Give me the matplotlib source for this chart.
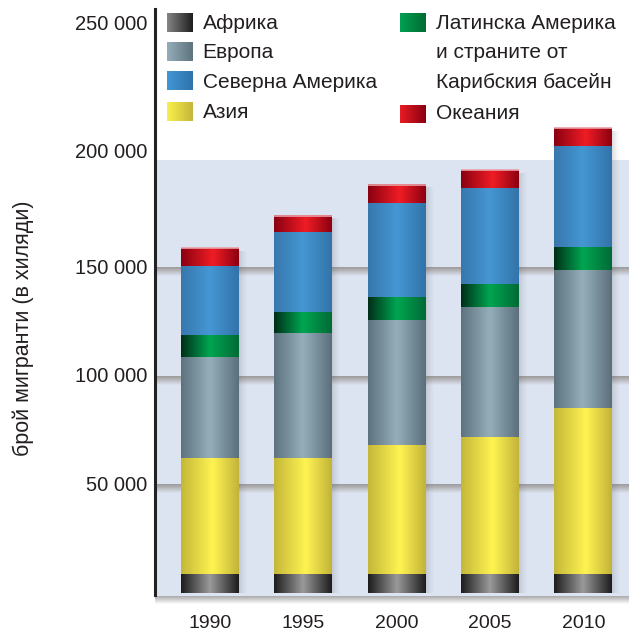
import numpy as np
import matplotlib
matplotlib.use("Agg")
import matplotlib.pyplot as plt
from matplotlib.colors import LinearSegmentedColormap

plt.rcParams['font.family'] = ['Liberation Sans', 'DejaVu Sans']

# Data (thousands of migrants)
years = ['1990', '1995', '2000', '2005', '2010']
africa = [9200, 9200, 9200, 9200, 9200]
asia = [53100, 53100, 59100, 62800, 76200]
europe = [46600, 58100, 58100, 60400, 63700]
latin_america = [10200, 9700, 10200, 10200, 10600]
north_america = [31800, 36500, 43400, 44300, 46600]
oceania = [8300, 7800, 8700, 8300, 8300]

ytick_values = [50000, 100000, 150000, 200000, 250000]
ytick_labels = ['50 000', '100 000', '150 000', '200 000', '250 000']
grid_values = [50000, 100000, 150000]

TEXT = '#231f20'
BG = '#dce3f1'

# series: (values, bar gradient stops, legend gradient stops)
series = [
    (africa, [(0, '#1c1c1c'), (0.5, '#9a9a9a'), (1, '#1c1c1c')], ['#858585', '#1e1e1e']),
    (asia, [(0, '#c4b739'), (0.55, '#fff352'), (1, '#c2b338')], ['#fbf04c', '#c4b638']),
    (europe, [(0, '#5d727e'), (0.5, '#95afba'), (1, '#5b6f7b')], ['#95aeb9', '#5d737e']),
    (latin_america, [(0, '#002e18'), (0.5, '#00a651'), (1, '#006a35')], ['#00a152', '#006a32']),
    (north_america, [(0, '#3777ad'), (0.5, '#4597d3'), (1, '#3273a9')], ['#4397d6', '#2e72aa']),
    (oceania, [(0, '#8a0010'), (0.55, '#ef1d26'), (1, '#8c0010')], ['#e81c25', '#8a0010']),
]


def gradient(ax, extent, stops, z, vertical=False):
    cmap = LinearSegmentedColormap.from_list('g', stops)
    g = np.linspace(0, 1, 256)
    g = g.reshape(-1, 1) if vertical else g.reshape(1, -1)
    return ax.imshow(g, cmap=cmap, extent=extent, aspect='auto', origin='upper',
                     interpolation='bilinear', zorder=z)


fig = plt.figure(figsize=(6.29, 6.31), dpi=100)
ax = fig.add_axes([155 / 629, 1 - 604 / 631, 474 / 629, 595 / 631])
xlim = (-0.589, 4.49)
ylim = (-4845, 269700)

# plot background and its bottom shadow
ax.axhspan(-1600, 200000, color=BG, zorder=0, lw=0)
gradient(ax, (xlim[0], xlim[1], ylim[0], -1600), ['#a9a9ab', '#ffffff'], 0.5, vertical=True)

# shelf-like gridlines
for v in grid_values:
    gradient(ax, (xlim[0], xlim[1], v - 3600, v + 400),
             [(0, '#9a9a9c'), (0.35, '#b3b3b6'), (1, BG)], 1, vertical=True)

# stacked bars with cylindrical shading
x = np.arange(len(years))
width = 0.62
bottom = np.zeros(len(years))
for values, stops, _ in series:
    bars = ax.bar(x, values, width=width, bottom=bottom, color='none', lw=0, zorder=3)
    for rect in bars:
        x0, y0 = rect.get_x(), rect.get_y()
        gradient(ax, (x0, x0 + rect.get_width(), y0, y0 + rect.get_height()), stops, 3)
    bottom += np.array(values)

# soft shadow to the right of each stack
shade = np.zeros((1, 64, 4))
shade[..., :3] = 0.35
shade[..., 3] = np.linspace(0.35, 0, 64) ** 1.5
for xi, total in zip(x, bottom):
    ax.imshow(shade, extent=(xi + width / 2, xi + width / 2 + 0.09, 0, total - 1500),
              aspect='auto', interpolation='bilinear', zorder=2)
    # light rim on top of the stack
    ax.plot([xi - width / 2, xi + width / 2], [total, total], color='#e9a0a8',
            lw=1.2, zorder=4, solid_capstyle='butt')

ax.set_xlim(*xlim)
ax.set_ylim(*ylim)

for s in ['top', 'right', 'bottom']:
    ax.spines[s].set_visible(False)
ax.spines['left'].set_color('#222222')
ax.spines['left'].set_linewidth(2.2)
ax.spines['left'].set_bounds(-800, ylim[1])
ax.spines['left'].set_zorder(5)

ax.set_xticks(x, years)
ax.tick_params(axis='x', length=0, pad=8, labelsize=14, labelcolor=TEXT)
ax.set_yticks([])

# y labels (the top ones sit a bit higher in the original)
nudges = {200000: 8, 250000: 27}
for v, lab in zip(ytick_values, ytick_labels):
    ax.annotate(lab, xy=(0, v), xycoords=ax.get_yaxis_transform(),
                xytext=(-8, nudges.get(v, 0)), textcoords='offset pixels',
                ha='right', va='center', fontsize=14.5, color=TEXT, annotation_clip=False)

fig.text(23 / 629, 1 - 328 / 631, 'брой мигранти (в хиляди)', rotation=90,
         ha='center', va='center', fontsize=15.5, color=TEXT)

# legend drawn in pixel space
lax = fig.add_axes([0, 0, 1, 1], zorder=10)
lax.set_xlim(0, 629)
lax.set_ylim(631, 0)
lax.axis('off')
lax.patch.set_visible(False)

left_items = [('Африка', 0, 22.5), ('Европа', 2, 51.5), ('Северна Америка', 4, 81), ('Азия', 1, 112)]
for label, idx, yc in left_items:
    gradient(lax, (166.5, 191.7, yc + 9.5, yc - 9.5), series[idx][2], 1)
    lax.text(202.6, yc + 1, label, ha='left', va='center', fontsize=15, color=TEXT)

gradient(lax, (400, 426, 31.7, 13.3), series[3][2], 1)
for txt, yc in [('Латинска Америка', 22.5), ('и страните от', 51.5), ('Карибския басейн', 81)]:
    lax.text(436.4, yc + 1, txt, ha='left', va='center', fontsize=15, color=TEXT)
gradient(lax, (400, 426, 122.7, 105), series[5][2], 1)
lax.text(436.4, 113.5, 'Океания', ha='left', va='center', fontsize=15, color=TEXT)

fig.savefig('out.png', dpi=100)
